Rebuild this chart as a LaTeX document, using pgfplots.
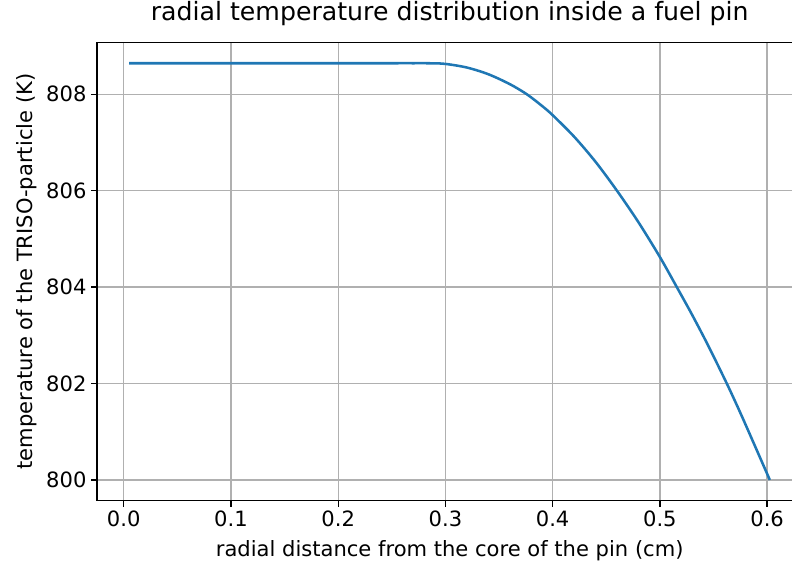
\documentclass[border=0pt]{standalone}
\usepackage{pgfplots}
\pgfplotsset{compat=1.18}
\usepackage{fontspec}
\setmainfont{DejaVu Sans}
\definecolor{mplblue}{HTML}{1F77B4}
\definecolor{mplgrid}{HTML}{B0B0B0}
\begin{document}
\begin{tikzpicture}
\begin{axis}[
  scale only axis,
  width=529.05pt, height=343.8pt,
  xmin=-0.0249, xmax=0.6329,
  ymin=799.57, ymax=809.08,
  xtick={0,0.1,0.2,0.3,0.4,0.5,0.6},
  ytick={800,802,804,806,808},
  xticklabel style={/pgf/number format/.cd,fixed,fixed zerofill,precision=1},
  yticklabel style={/pgf/number format/.cd,fixed,precision=0,1000 sep={}},
  /pgf/number format/assume math mode=true,
  tick label style={font=\fontsize{15.8}{19}\selectfont},
  label style={font=\fontsize{15.8}{19}\selectfont},
  tick align=outside,
  major tick length=4.4pt,
  tick style={black, line width=1pt},
  axis line style={line width=1pt},
  xtick pos=bottom, ytick pos=left,
  grid=major,
  grid style={color=mplgrid, line width=1pt},
  title={radial temperature distribution inside a fuel pin},
  title style={font=\fontsize{18.9}{22}\selectfont, at={(axis description cs:0.5,1.029)}, anchor=base, yshift=0pt},
  xlabel={radial distance from the core of the pin (cm)},
  ylabel={temperature of the TRISO-particle (K)},
  xlabel style={at={(axis description cs:0.5,-0.1097)}, anchor=center},
  ylabel style={at={(axis description cs:-0.0992,0.5)}, anchor=center, rotate=0},
]
\addplot[color=mplblue, line width=1.9pt, line join=round, smooth, tension=0.5] coordinates {
(0.005,808.645) (0.05,808.645) (0.1,808.645) (0.15,808.645) (0.2,808.645)
(0.25,808.645) (0.27,808.645) (0.287,808.644) (0.300,808.631) (0.320,808.556)
(0.340,808.417) (0.360,808.212) (0.376,808.000) (0.390,807.761) (0.400,807.568)
(0.420,807.122) (0.440,806.600) (0.460,806.000) (0.480,805.347) (0.500,804.625)
(0.5158,804.000) (0.530,803.428) (0.545,802.789) (0.5624,802.000) (0.575,801.393)
(0.590,800.636) (0.6025,800.000)
};
\end{axis}
\pgfresetboundingbox
\useasboundingbox ([shift={(-72.75pt,-49.73pt)}]current axis.south west) rectangle ([shift={(521.25pt,375.5pt)}]current axis.south west);
\end{tikzpicture}
\end{document}
